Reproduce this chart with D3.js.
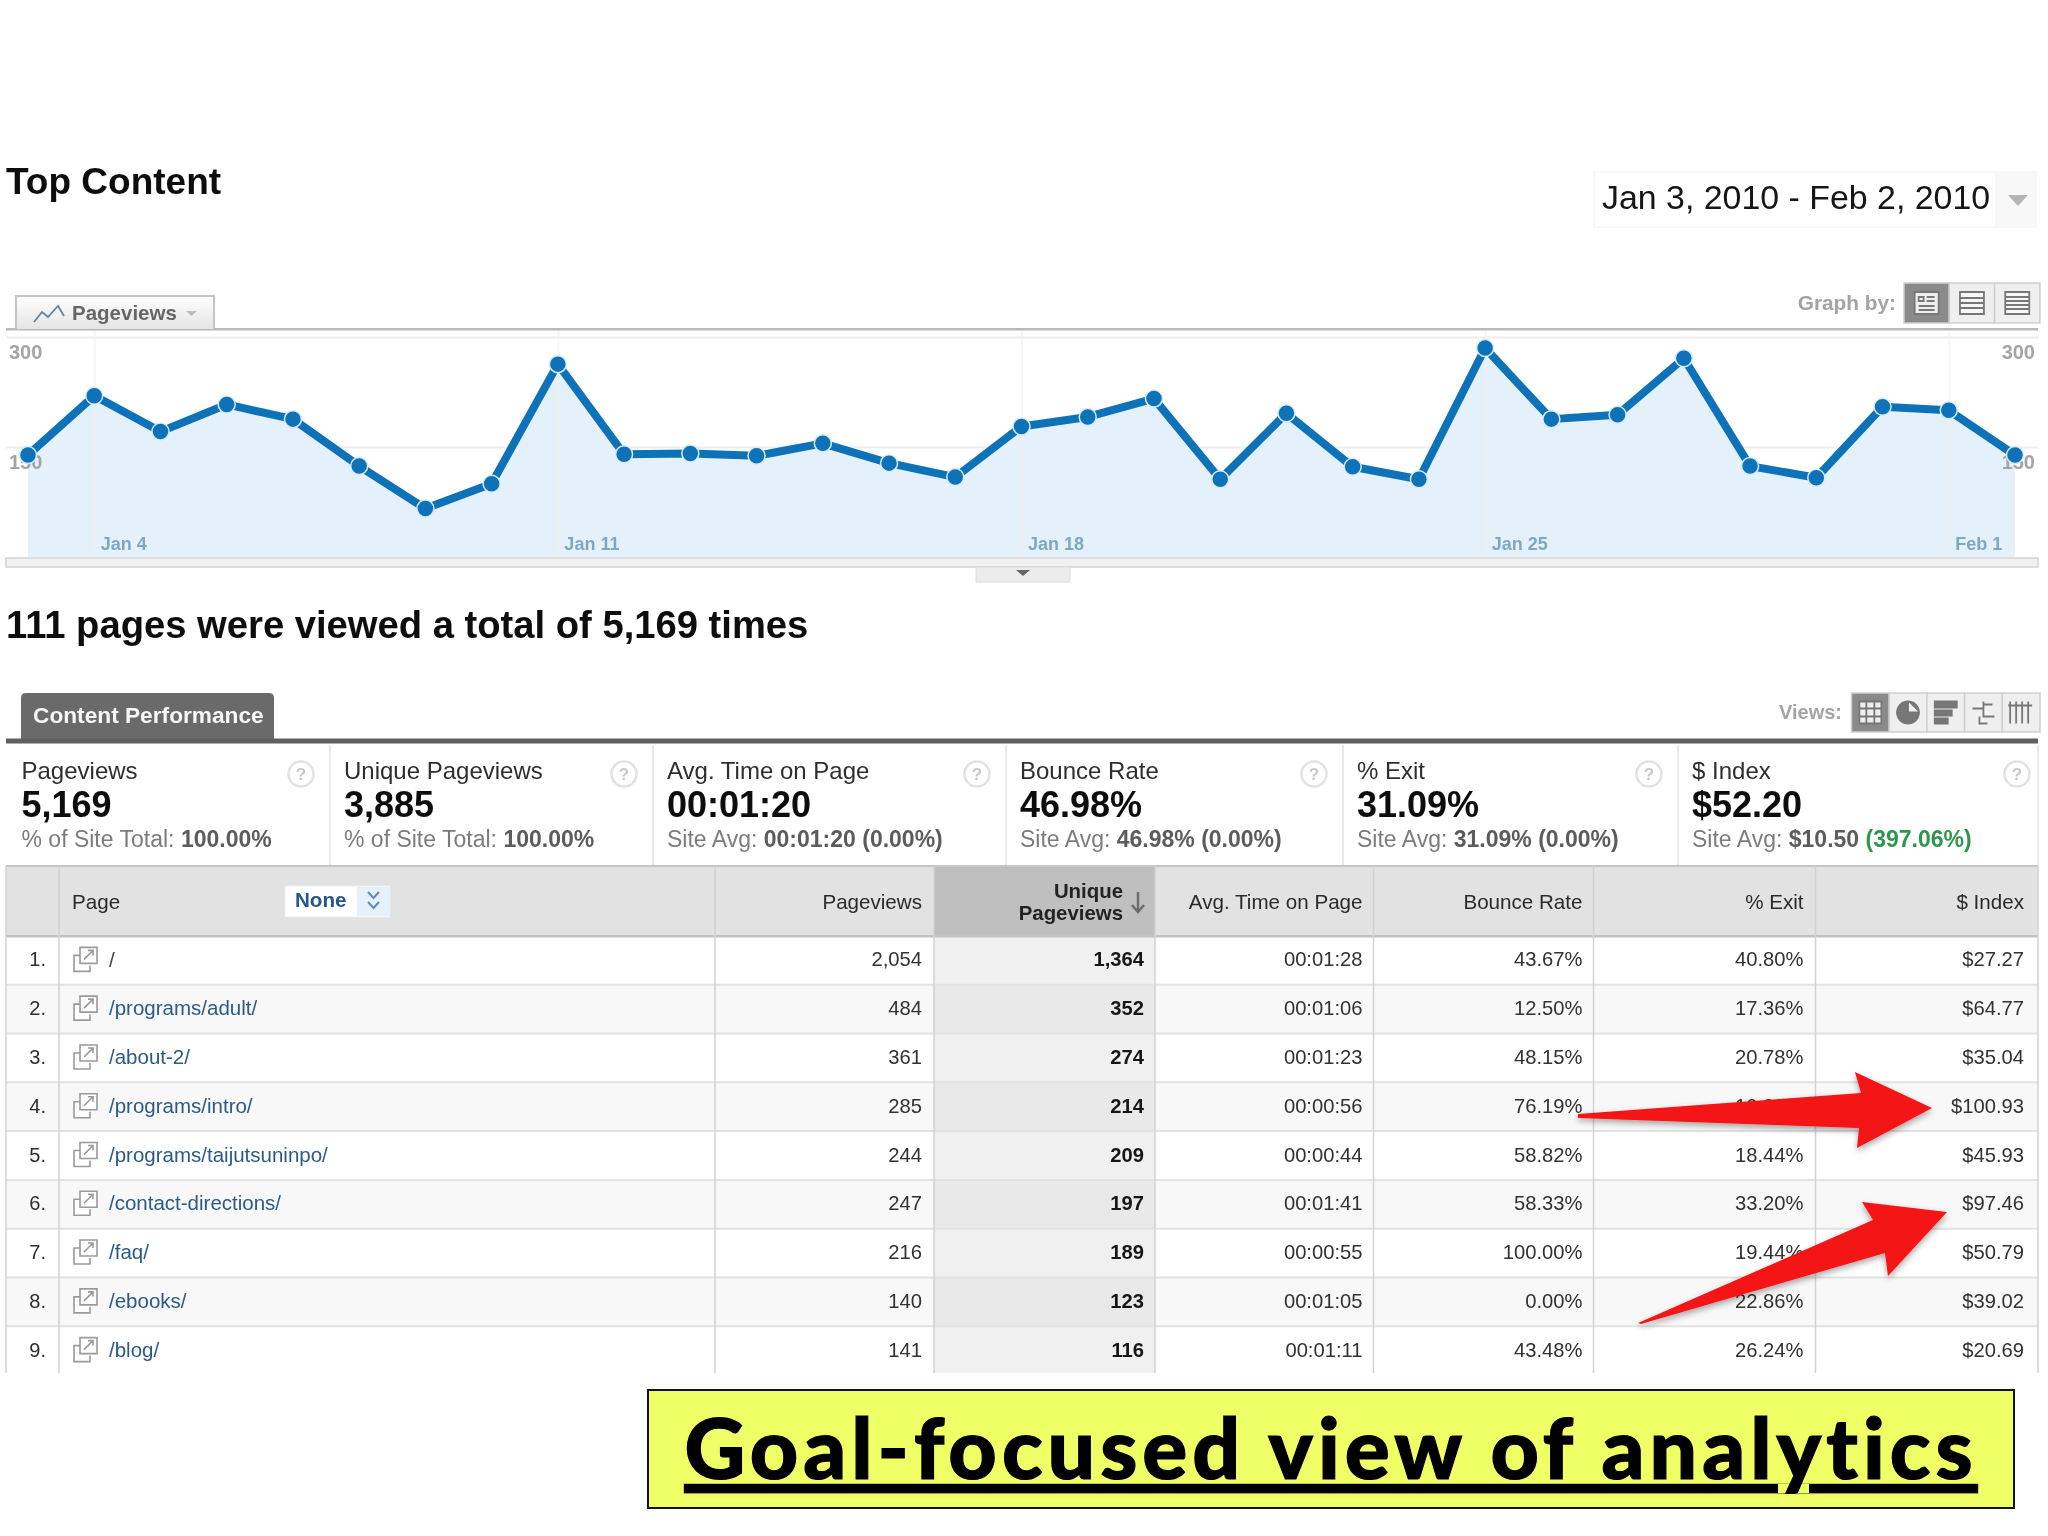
<!DOCTYPE html>
<html>
<head>
<meta charset="utf-8">
<script src="https://cdnjs.cloudflare.com/ajax/libs/d3/7.8.5/d3.min.js"></script>
<style>
    html, body { margin: 0; background: #fff; }
    svg { display: block; }
    text { font-family: "Liberation Sans", Arial, sans-serif; }
</style>
</head>
<body>
<script>
// Graph data
const days = ['Jan 3', 'Jan 4', 'Jan 5', 'Jan 6', 'Jan 7', 'Jan 8', 'Jan 9', 'Jan 10', 'Jan 11', 'Jan 12', 'Jan 13',
    'Jan 14', 'Jan 15', 'Jan 16', 'Jan 17', 'Jan 18', 'Jan 19', 'Jan 20', 'Jan 21', 'Jan 22', 'Jan 23', 'Jan 24',
    'Jan 25', 'Jan 26', 'Jan 27', 'Jan 28', 'Jan 29', 'Jan 30', 'Jan 31', 'Feb 1', 'Feb 2'];
const dailyPageviews = [139, 220, 171, 208, 188, 124, 66, 100, 263, 140, 141, 138, 155, 128, 109, 178,
    191, 216, 106, 196, 123, 106, 285, 188, 194, 271, 124, 108, 205, 200, 139];
const dayTicks = ['Jan 4', 'Jan 11', 'Jan 18', 'Jan 25', 'Feb 1'];
const valueTicks = [150, 300];

// Scorecards
const cardLabels = ['Pageviews', 'Unique Pageviews', 'Avg. Time on Page', 'Bounce Rate', '% Exit', '$ Index'];
const cardValues = ['5,169', '3,885', '00:01:20', '46.98%', '31.09%', '$52.20'];
const cardPrefixes = ['% of Site Total: ', '% of Site Total: ', 'Site Avg: ', 'Site Avg: ', 'Site Avg: ', 'Site Avg: '];
const cardAverages = ['100.00%', '100.00%', '00:01:20 (0.00%)', '46.98% (0.00%)', '31.09% (0.00%)', '$10.50 '];

// Table
const pages = ['/', '/programs/adult/', '/about-2/', '/programs/intro/', '/programs/taijutsuninpo/',
    '/contact-directions/', '/faq/', '/ebooks/', '/blog/'];
const pageviews = ['2,054', '484', '361', '285', '244', '247', '216', '140', '141'];
const uniquePageviews = ['1,364', '352', '274', '214', '209', '197', '189', '123', '116'];
const avgTimes = ['00:01:28', '00:01:06', '00:01:23', '00:00:56', '00:00:44', '00:01:41', '00:00:55', '00:01:05', '00:01:11'];
const bounceRates = ['43.67%', '12.50%', '48.15%', '76.19%', '58.82%', '58.33%', '100.00%', '0.00%', '43.48%'];
const exitRates = ['40.80%', '17.36%', '20.78%', '10.88%', '18.44%', '33.20%', '19.44%', '22.86%', '26.24%'];
const dollarIndex = ['$27.27', '$64.77', '$35.04', '$100.93', '$45.93', '$97.46', '$50.79', '$39.02', '$20.69'];
const columnHeaders = ['Pageviews', '', 'Avg. Time on Page', 'Bounce Rate', '% Exit', '$ Index'];

/**
 * Layout.
 */
const graph = { left: 28, right: 2015, top: 329, bottom: 557, zero: 557, maxY: 337 };
const cardEdges = [6, 330, 653, 1006, 1343, 1678, 2038];
const tableEdges = [6, 59, 715, 934, 1155, 1373.5, 1593.5, 1815.5, 2038];
const cellInset = [12, 11, 11, 11, 12, 14]; // Right padding of the numeric columns
const tableTop = 866, headerBottom = 936, tableBottom = 1375, tableCut = 1373;
const sortedColumn = 1; // Index into the numeric columns

const svg = d3.select('body').append('svg').attr('width', 2048).attr('height', 1536);
const defs = svg.append('defs');
defs.append('filter').attr('id', 'soft')
    .attr('filterUnits', 'userSpaceOnUse')
    .attr('x', 0).attr('y', 0).attr('width', 2048).attr('height', 1536)
    .append('feGaussianBlur').attr('stdDeviation', 0.65);
defs.append('filter').attr('id', 'arrowShadow')
    .append('feDropShadow').attr('dx', 0).attr('dy', 3).attr('stdDeviation', 3).attr('flood-opacity', 0.35);
const tabGradient = defs.append('linearGradient').attr('id', 'tabFill').attr('x2', 0).attr('y2', 1);
tabGradient.append('stop').attr('offset', 0).attr('stop-color', '#fff');
tabGradient.append('stop').attr('offset', 1).attr('stop-color', '#e4e4e4');

const page = svg.append('g').attr('filter', 'url(#soft)');

function label(parent, x, y, str, size, fill, weight, anchor) {
    return parent.append('text')
        .attr('x', x).attr('y', y)
        .attr('dy', '0.35em')
        .attr('font-size', size)
        .attr('font-weight', weight || 'normal')
        .attr('fill', fill)
        .attr('text-anchor', anchor || 'start')
        .text(str);
}

/**
 * Heading row.
 */
label(page, 6, 181, 'Top Content', 37, '#111', 'bold');
page.append('rect').attr('x', 1593).attr('y', 171).attr('width', 444).attr('height', 57).attr('fill', '#f8f8f8');
page.append('rect').attr('x', 1595).attr('y', 173).attr('width', 400).attr('height', 53).attr('fill', '#fff');
label(page, 1602, 197, 'Jan 3, 2010 - Feb 2, 2010', 33.9, '#161616');
page.append('path').attr('d', 'M2008,195h20l-10,11z').attr('fill', '#b5b5b5');

/**
 * Graph.
 */
const x = d3.scalePoint().domain(days).range([graph.left, graph.right]);
const y = d3.scaleLinear().domain([0, 300]).range([graph.zero, graph.maxY]);

const area = d3.area().x((d, i) => x(days[i])).y0(y(0)).y1(d => y(d));
const line = d3.line().x((d, i) => x(days[i])).y(d => y(d));

// Grid lines and tick labels come from the axes
const xAxis = page.append('g').attr('transform', `translate(0,${graph.bottom})`)
    .call(d3.axisBottom(x).tickValues(dayTicks).tickSize(graph.top - graph.bottom));
xAxis.select('.domain').remove();
xAxis.selectAll('line').attr('stroke', '#f0f0f0').attr('stroke-width', 2);
xAxis.selectAll('text')
    .attr('x', 6).attr('y', -7).attr('dy', 0)
    .attr('text-anchor', 'start')
    .attr('font-size', 18).attr('font-weight', 'bold').attr('fill', '#7ea8c2')
    .attr('font-family', '"Liberation Sans"');

const yGrid = page.append('g').attr('transform', `translate(${graph.left - 22},0)`)
    .call(d3.axisRight(y).tickValues(valueTicks).tickSize(2032));
yGrid.select('.domain').remove();
yGrid.selectAll('line').attr('stroke', '#eeeeee').attr('stroke-width', 2);
yGrid.selectAll('text').remove();

page.append('path').datum(dailyPageviews).attr('d', area).attr('fill', '#e5f1fa');
xAxis.raise();
xAxis.selectAll('line').attr('stroke-opacity', 0.6);

[[d3.axisLeft(y), 9, 'start'], [d3.axisRight(y), 2035, 'end']].forEach(([axis, at, anchor]) => {
    const side = page.append('g').attr('transform', `translate(${at},0)`)
        .call(axis.tickValues(valueTicks).tickSize(0));
    side.select('.domain').remove();
    side.selectAll('text')
        .attr('x', 0).attr('dy', 21)
        .attr('text-anchor', anchor)
        .attr('font-size', 20).attr('font-weight', 'bold').attr('fill', '#a4a4a4')
        .attr('font-family', '"Liberation Sans"');
});

page.append('path').datum(dailyPageviews).attr('d', line)
    .attr('fill', 'none').attr('stroke', '#0f72b8').attr('stroke-width', 8)
    .attr('stroke-linejoin', 'round');
page.selectAll('.dot').data(dailyPageviews).join('circle').attr('class', 'dot')
    .attr('cx', (d, i) => x(days[i])).attr('cy', d => y(d)).attr('r', 8.5)
    .attr('fill', '#0f72b8').attr('stroke', '#d7ebf7').attr('stroke-width', 1.5);

// Graph frame
page.append('rect').attr('x', 6).attr('y', 328).attr('width', 2032).attr('height', 2.5).attr('fill', '#b9b9b9');
page.append('rect').attr('x', 6).attr('y', 558).attr('width', 2032).attr('height', 9)
    .attr('fill', '#f1f1f1').attr('stroke', '#d4d4d4').attr('stroke-width', 1.5);
page.append('rect').attr('x', 976).attr('y', 567).attr('width', 94).attr('height', 15)
    .attr('fill', '#ececec').attr('stroke', '#dcdcdc');
page.append('path').attr('d', 'M1016,570h14l-7,6z').attr('fill', '#666');

// Pageviews tab
page.append('path').attr('d', 'M16,329V296h198V329').attr('fill', 'url(#tabFill)').attr('stroke', '#c4c4c4').attr('stroke-width', 2);
page.append('path').attr('d', 'M34,322l8,-10l6,5l10,-11l6,10')
    .attr('fill', 'none').attr('stroke', '#5c89a8').attr('stroke-width', 1.8);
label(page, 72, 313, 'Pageviews', 20.5, '#666', 'bold');
page.append('path').attr('d', 'M186,311h11l-5.5,5z').attr('fill', '#bdbdbd');

// Graph by buttons
label(page, 1896, 303, 'Graph by:', 20.8, '#a4a4a4', 'bold', 'end');
toolButtons(1904, 283, 45.3, 40, [
    'M-12,-11H12V11H-12ZM-8,-6H-3V-2H-8ZM-8,3H8M-8,7H8M0,-6H8M0,-2H8',
    'M-12,-11H12V11H-12ZM-12,-5H12M-12,0H12M-12,5H12',
    'M-12,-11H12V11H-12ZM-12,-6H12M-12,-2H12M-12,2H12M-12,6H12'
]);

/**
 * Summary sentence.
 */
label(page, 6, 625, '111 pages were viewed a total of 5,169 times', 38.2, '#0f0f0f', 'bold');

/**
 * Content Performance tab and rule.
 */
page.append('path').attr('d', 'M21,741V698q0,-5,5,-5H269q5,0,5,5V741z').attr('fill', '#6a6a6a');
label(page, 33, 715, 'Content Performance', 22.7, '#f8f8f8', 'bold');
page.append('rect').attr('x', 6).attr('y', 738.5).attr('width', 2032).attr('height', 5).attr('fill', '#5e5e5e');
label(page, 1842, 712, 'Views:', 20, '#a4a4a4', 'bold', 'end');
toolButtons(1851.5, 693, 37.7, 39, [
    'M-11,-11H11V11H-11ZM-4,-11V11M4,-11V11M-11,-4H11M-11,4H11',
    'M0,-11A11,11,0,1,1,-0.1,-11ZM0,-11V0H11',
    'M-11,-11H11V-5H-11ZM-11,-2H6V3H-11ZM-11,6H2V11H-11Z',
    'M-11,-4H0V-11H0M0,-8H9M0,-4V4H11M-4,4V11H4',
    'M-11,-11V11M-5,-11V11M1,-11V11M7,-11V11M-13,-7H11'
], [false, true, true, false, false]);

/**
 * Scorecards.
 */
const cards = page.selectAll('.card').data(cardLabels).join('g').attr('class', 'card')
    .attr('transform', (d, i) => `translate(${cardEdges[i]},0)`);
cards.each(function(d, i) {
    const card = d3.select(this);
    const textLeft = i === 0 ? 15.5 : 14;
    label(card, textLeft, 771, d, 24, '#2e2e2e');
    label(card, textLeft, 804, cardValues[i], 36, '#0c0c0c', 'bold');
    const sub = label(card, textLeft, 839, cardPrefixes[i], 23, '#7c7c7c');
    sub.append('tspan').attr('font-weight', 'bold').attr('fill', '#5c5c5c').text(cardAverages[i]);
    if (i === 5) sub.append('tspan').attr('font-weight', 'bold').attr('fill', '#2f9650').text('(397.06%)');
    if (i > 0) {
        card.append('line').attr('y1', 745).attr('y2', 866).attr('stroke', '#e2e2e2').attr('stroke-width', 1.5);
    }
    const helpX = cardEdges[i + 1] - cardEdges[i] - (i === 5 ? 21 : 29);
    card.append('circle').attr('cx', helpX).attr('cy', 774).attr('r', 12.5)
        .attr('fill', '#fff').attr('stroke', '#e2e2e2').attr('stroke-width', 2.5);
    label(card, helpX, 774, '?', 17, '#c8c8c8', 'bold', 'middle');
});
page.append('line').attr('x1', 2038).attr('x2', 2038).attr('y1', 745).attr('y2', 866).attr('stroke', '#e2e2e2').attr('stroke-width', 1.5);

/**
 * Table.
 */
const row = d3.scaleBand().domain(pages).range([headerBottom, tableBottom]);
const rowHeight = row.bandwidth();
const columns = [pageviews, uniquePageviews, avgTimes, bounceRates, exitRates, dollarIndex];

// Row backgrounds
page.selectAll('.row-bg').data(pages).join('rect').attr('class', 'row-bg')
    .attr('x', 6).attr('y', d => row(d)).attr('width', 2032).attr('height', rowHeight)
    .attr('fill', (d, i) => i % 2 ? '#f8f8f9' : '#fff');
page.selectAll('.sorted-bg').data(pages).join('rect').attr('class', 'sorted-bg')
    .attr('x', tableEdges[3]).attr('y', d => row(d)).attr('width', tableEdges[4] - tableEdges[3]).attr('height', rowHeight)
    .attr('fill', (d, i) => i % 2 ? '#e9e9e9' : '#f0f0f0');
page.append('rect').attr('x', 0).attr('y', tableCut).attr('width', 2048).attr('height', 8).attr('fill', '#fff');

// Header
page.append('rect').attr('x', 6).attr('y', tableTop).attr('width', 2032).attr('height', headerBottom - tableTop).attr('fill', '#e2e2e2');
page.append('rect').attr('x', tableEdges[3]).attr('y', tableTop).attr('width', tableEdges[4] - tableEdges[3]).attr('height', headerBottom - tableTop).attr('fill', '#bfbfbf');
page.append('rect').attr('x', 6).attr('y', tableTop - 1).attr('width', 2032).attr('height', 2).attr('fill', '#c6c6c6');
page.append('rect').attr('x', 6).attr('y', headerBottom - 1).attr('width', 2032).attr('height', 2.5).attr('fill', '#c2c2c2');

// Row separators
page.selectAll('.row-line').data(pages.slice(0, -1)).join('line').attr('class', 'row-line')
    .attr('x1', 6).attr('x2', 2038)
    .attr('y1', d => row(d) + rowHeight).attr('y2', d => row(d) + rowHeight)
    .attr('stroke', '#e2e2e2').attr('stroke-width', 2);

// Column separators
page.selectAll('.col-line').data(tableEdges).join('line').attr('class', 'col-line')
    .attr('x1', d => d).attr('x2', d => d)
    .attr('y1', tableTop).attr('y2', tableCut)
    .attr('stroke', '#d2d2d2').attr('stroke-width', 1.5);

label(page, 72, 902, 'Page', 20.6, '#2a2a2a');
page.append('rect').attr('x', 285).attr('y', 886).attr('width', 105).attr('height', 31).attr('fill', '#fff').attr('stroke', '#e8eef5');
page.append('rect').attr('x', 357).attr('y', 887).attr('width', 33).attr('height', 29).attr('fill', '#e6f0f8');
label(page, 295, 900, 'None', 20.6, '#27568c', 'bold');
page.append('path').attr('d', 'M368,892l5.5,6l5.5,-6M368,902l5.5,6l5.5,-6').attr('fill', 'none').attr('stroke', '#5d8dbb').attr('stroke-width', 2);

columnHeaders.forEach((d, i) => {
    label(page, tableEdges[i + 3] - cellInset[i], 902, d, 20.6, '#2a2a2a', 'normal', 'end');
});
label(page, 1123, 891, 'Unique', 20.4, '#222', 'bold', 'end');
label(page, 1123, 913, 'Pageviews', 20.4, '#222', 'bold', 'end');
page.append('path').attr('d', 'M1138,892V912M1132,905l6,7l6,-7').attr('fill', 'none').attr('stroke', '#6d6d6d').attr('stroke-width', 2.5);

// Row cells
const rows = page.selectAll('.table-row').data(pages).join('g').attr('class', 'table-row')
    .attr('transform', d => `translate(0,${row(d) + rowHeight / 2 - 1})`);
rows.each(function(d, i) {
    const r = d3.select(this);
    label(r, 46, 0, (i + 1) + '.', 20, '#2e2e2e', 'normal', 'end');
    r.append('path').attr('d', 'M80,-4H74V12H90V6M80,-12H97V4H80ZM84,0L93,-9M88,-9H93V-4')
        .attr('fill', '#fff').attr('stroke', '#9a9a9a').attr('stroke-width', 1.6);
    label(r, 109, 0, d, 20.5, i === 0 ? '#444' : '#2c5a86');
    columns.forEach((values, c) => {
        label(r, tableEdges[c + 3] - cellInset[c], 0, values[i], 20.2,
            c === sortedColumn ? '#181818' : '#303030', c === sortedColumn ? 'bold' : 'normal', 'end');
    });
});

/**
 * Red call-out arrows.
 */
const arrows = svg.append('g').attr('filter', 'url(#arrowShadow)');
[
    [[1578, 1114], [1861, 1093], [1855, 1072], [1932, 1108], [1857, 1148], [1859, 1128], [1578, 1118]],
    [[1638, 1323], [1873, 1220], [1862, 1202], [1947, 1212], [1888, 1276], [1885, 1253], [1641, 1324]]
].forEach(points => {
    arrows.append('path').attr('d', d3.line()(points) + 'Z').attr('fill', '#f41414');
});

/**
 * Caption box.
 */
svg.append('rect').attr('x', 648).attr('y', 1390).attr('width', 1366).attr('height', 118)
    .attr('fill', '#efff66').attr('stroke', '#111').attr('stroke-width', 2);
svg.append('text').attr('x', 1331).attr('y', 1450).attr('dy', '0.35em')
    .attr('text-anchor', 'middle').attr('font-size', 84).attr('font-weight', 900)
    .style('font-family', 'Lato, sans-serif').style('letter-spacing', '5px')
    .attr('text-decoration', 'underline').attr('fill', '#000')
    .attr('stroke', '#000').attr('stroke-width', 1.2)
    .text('Goal-focused view of analytics');

/**
 * Draws a strip of toggle buttons with the first one pressed.
 */
function toolButtons(left, top, width, height, icons, solid) {
    const strip = page.append('g');
    strip.selectAll('rect').data(icons).join('rect')
        .attr('x', (d, i) => left + i * width).attr('y', top)
        .attr('width', width).attr('height', height)
        .attr('fill', (d, i) => i === 0 ? '#8a8a8a' : '#efefef')
        .attr('stroke', '#cfcfcf').attr('stroke-width', 1.5);
    strip.selectAll('path').data(icons).join('path')
        .attr('transform', (d, i) => `translate(${left + i * width + width / 2},${top + height / 2})`)
        .attr('d', d => d)
        .attr('fill', (d, i) => solid && solid[i] ? '#777' : (i === 0 ? '#efefef' : '#f7f7f7'))
        .attr('stroke', '#777').attr('stroke-width', 1.8);
}
</script>
</body>
</html>
